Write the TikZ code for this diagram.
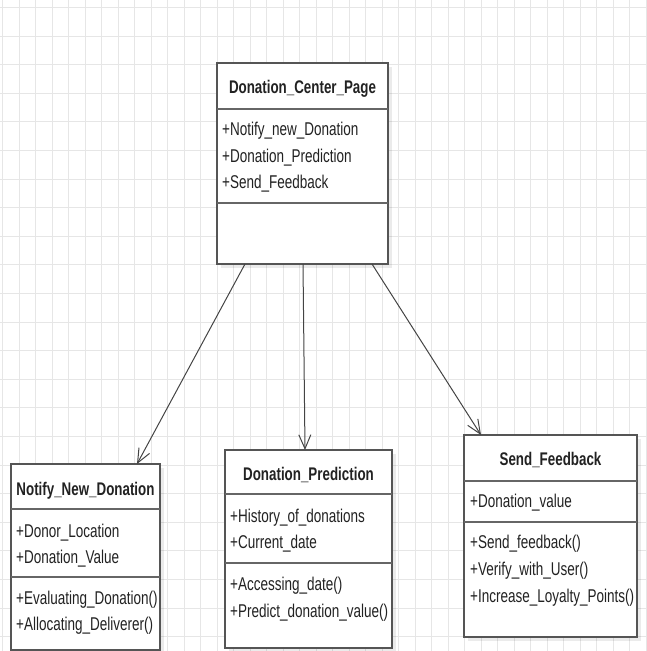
\documentclass[tikz,border=0pt]{standalone}
\usepackage{fontspec}
\setmainfont[FakeStretch=0.73]{Liberation Sans}
\usetikzlibrary{arrows.meta,shadows}
\definecolor{gridc}{HTML}{E6E6E6}
\definecolor{boxline}{HTML}{555555}
\definecolor{txt}{HTML}{222222}
\definecolor{arrc}{HTML}{444444}
\tikzset{
  umlbox/.style={draw=boxline, line width=1.6pt, fill=white, inner sep=0pt, outer sep=0pt, anchor=north west,
    drop shadow={shadow xshift=4pt, shadow yshift=-4pt, fill=black, opacity=0.08}},
  divider/.style={draw=boxline!90, line width=2pt},
  ttl/.style={font=\fontsize{18.3}{22}\selectfont\bfseries, text=txt, anchor=base, inner sep=0pt},
  mem/.style={font=\fontsize{18.5}{22}\selectfont, text=txt, anchor=base west, inner sep=0pt},
  arr/.style={draw=arrc, line width=1pt, -{Straight Barb[length=14pt,width=12pt,line width=1pt]}},
  gridline/.style={draw=gridc, line width=1pt}
}
\begin{document}
\begin{tikzpicture}[x=1pt,y=-1pt]
\useasboundingbox (0,0) rectangle (646,651);
% background grid
\foreach \i in {0,...,39} { \draw[gridline] ({2.5+16.5*\i},0) -- ({2.5+16.5*\i},651); }
\foreach \j in {0,...,22} { \draw[gridline] (0,{7.5+28.6*\j}) -- (646,{7.5+28.6*\j}); }

% Donation_Center_Page
\node[umlbox, minimum width=171pt, minimum height=201pt] (top) at (217,63) {};
\draw[divider] (217,109) -- (388,109);
\draw[divider] (217,203) -- (388,203);
\node[ttl] (topT) at (302.5,93) {Donation\_Center\_Page};
\node[mem] (topA1) at (222,135) {+Notify\_new\_Donation};
\node[mem] (topA2) at (222,162) {+Donation\_Prediction};
\node[mem] (topA3) at (222,188) {+Send\_Feedback};

% Notify_New_Donation
\node[umlbox, minimum width=149pt, minimum height=186pt] (notify) at (11,464) {};
\draw[divider] (11,509) -- (160,509);
\draw[divider] (11,577) -- (160,577);
\node[ttl] (notT) at (85.5,495) {Notify\_New\_Donation};
\node[mem] (notA1) at (16,537) {+Donor\_Location};
\node[mem] (notA2) at (16,563) {+Donation\_Value};
\node[mem] (notM1) at (16,604) {+Evaluating\_Donation()};
\node[mem] (notM2) at (16,630) {+Allocating\_Deliverer()};

% Donation_Prediction
\node[umlbox, minimum width=167pt, minimum height=198pt] (pred) at (225,450) {};
\draw[divider] (225,494) -- (392,494);
\draw[divider] (225,563) -- (392,563);
\node[ttl] (preT) at (308.5,480) {Donation\_Prediction};
\node[mem] (preA1) at (230,522) {+History\_of\_donations};
\node[mem] (preA2) at (230,548) {+Current\_date};
\node[mem] (preM1) at (230,590) {+Accessing\_date()};
\node[mem] (preM2) at (230,617) {+Predict\_donation\_value()};

% Send_Feedback
\node[umlbox, minimum width=173pt, minimum height=202pt] (feed) at (464,435) {};
\draw[divider] (464,481) -- (637,481);
\draw[divider] (464,522) -- (637,522);
\node[ttl] (feeT) at (550.5,465) {Send\_Feedback};
\node[mem] (feeA1) at (470,507) {+Donation\_value};
\node[mem] (feeM1) at (470,548) {+Send\_feedback()};
\node[mem] (feeM2) at (470,575) {+Verify\_with\_User()};
\node[mem] (feeM3) at (470,602) {+Increase\_Loyalty\_Points()};

% connectors
\coordinate (s1) at ([xshift=28pt]top.south west);
\coordinate (s2) at ([xshift=86pt]top.south west);
\coordinate (s3) at ([xshift=155pt]top.south west);
\coordinate (e1) at ([xshift=126pt]notify.north west);
\coordinate (e2) at ([xshift=80pt]pred.north west);
\coordinate (e3) at ([xshift=17pt]feed.north west);
\draw[arr] (s1) -- (e1);
\draw[arr] (s2) -- (e2);
\draw[arr] (s3) -- (e3);
\end{tikzpicture}
\end{document}
